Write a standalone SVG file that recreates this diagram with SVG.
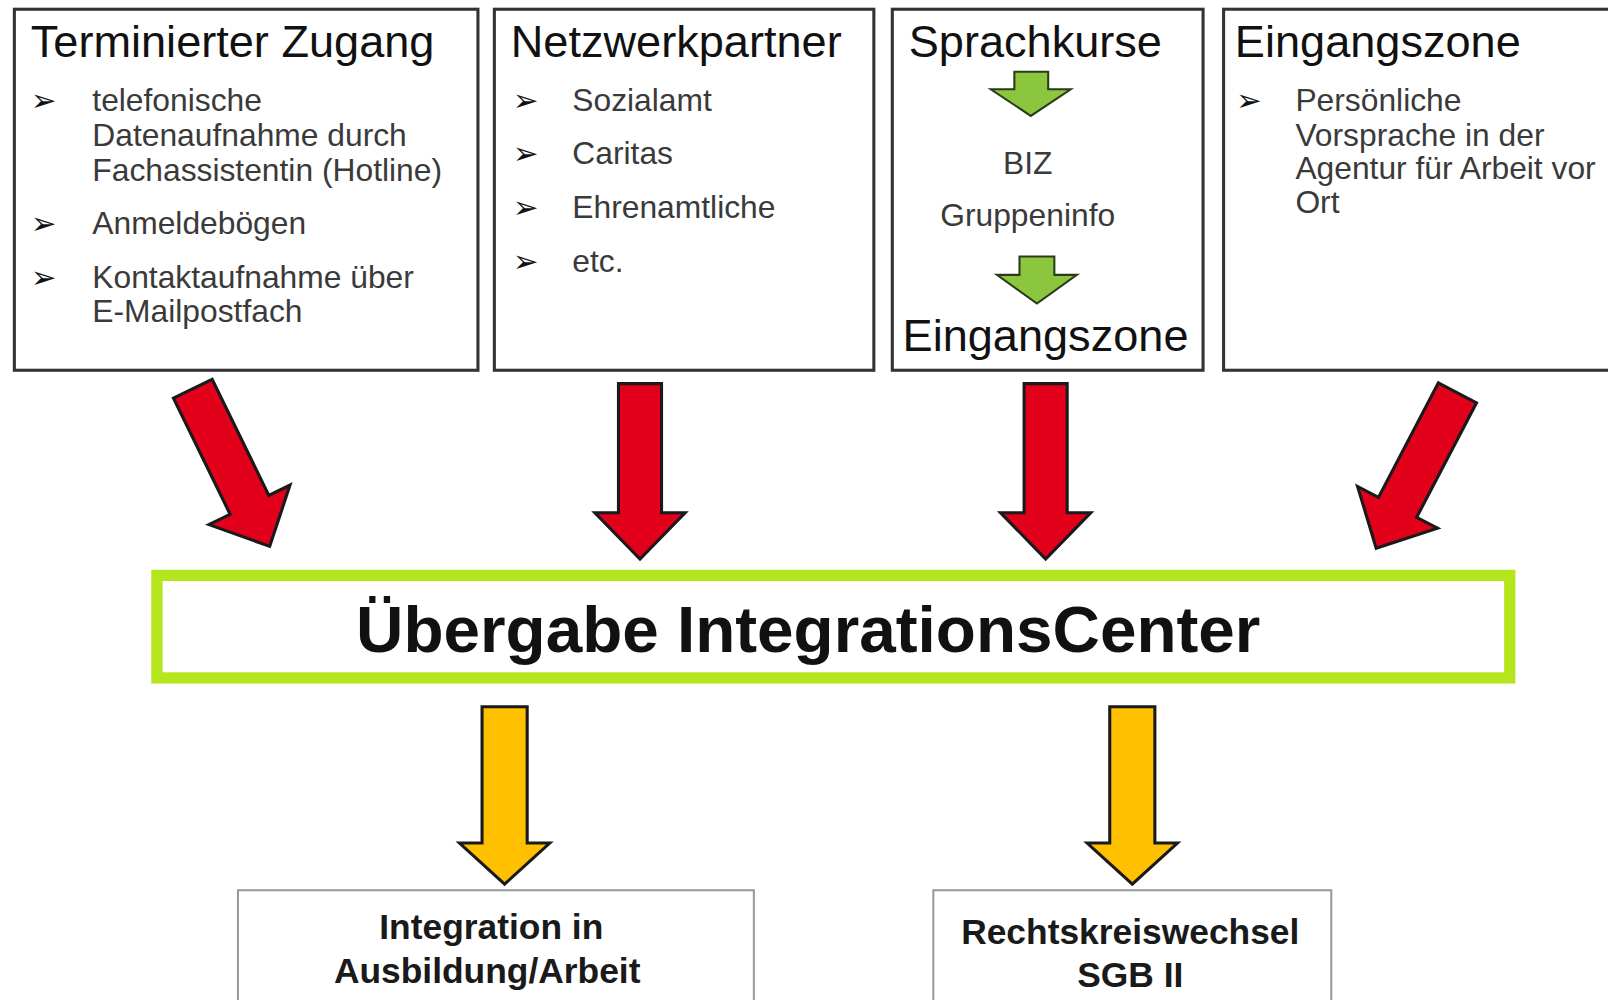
<svg xmlns="http://www.w3.org/2000/svg" width="1608" height="1000" viewBox="0 0 1608 1000">
<style>
.box{fill:#fff;stroke:#333;stroke-width:3}
.obox{fill:#fff;stroke:#999;stroke-width:2}
.title{font-family:"Liberation Sans",Arial,sans-serif;font-size:44px;fill:#111}
.item{font-family:"Liberation Sans",Arial,sans-serif;font-size:31px;fill:#3a3a3a}
.bul{font-family:"DejaVu Sans",sans-serif;font-size:30px;fill:#111}
.main{font-family:"Liberation Sans",Arial,sans-serif;font-size:64px;font-weight:bold;fill:#111}
.out{font-family:"Liberation Sans",Arial,sans-serif;font-size:34.5px;font-weight:bold;fill:#1a1a1a}
.red{fill:#e2001a;stroke:#1a1a1a;stroke-width:3;stroke-linejoin:miter}
.yel{fill:#ffc000;stroke:#1a1a1a;stroke-width:3}
.grn{fill:#8cc63f;stroke:#2a3a1a;stroke-width:2}
</style>
<defs>
<path id="redArrow" d="M-21,0 L21,0 L21,126 L44,126 L0,171 L-44,126 L-21,126 Z"/>
<path id="yelArrow" d="M-22,0 L22,0 L22,133 L44,133 L0,173 L-44,133 L-22,133 Z"/>
</defs>
<rect width="1608" height="1000" fill="#fff"/>
<g transform="scale(1.02564)">
<g id="box1">
<rect class="box" x="14" y="9" width="452" height="352"/>
<text class="title" x="30" y="56">Terminierter Zugang</text>
<text class="bul" x="30" y="108">➢</text>
<text class="item" x="90" y="108">telefonische</text>
<text class="item" x="90" y="142">Datenaufnahme durch</text>
<text class="item" x="90" y="176">Fachassistentin (Hotline)</text>
<text class="bul" x="30" y="228">➢</text>
<text class="item" x="90" y="228">Anmeldebögen</text>
<text class="bul" x="30" y="281">➢</text>
<text class="item" x="90" y="281">Kontaktaufnahme über</text>
<text class="item" x="90" y="314">E-Mailpostfach</text>
</g>

<g id="box2">
<rect class="box" x="482" y="9" width="370" height="352"/>
<text class="title" x="498" y="56">Netzwerkpartner</text>
<text class="bul" x="500" y="108">➢</text>
<text class="item" x="558" y="108">Sozialamt</text>
<text class="bul" x="500" y="160">➢</text>
<text class="item" x="558" y="160">Caritas</text>
<text class="bul" x="500" y="213">➢</text>
<text class="item" x="558" y="213">Ehrenamtliche</text>
<text class="bul" x="500" y="265">➢</text>
<text class="item" x="558" y="265">etc.</text>
</g>

<g id="box3">
<rect class="box" x="870" y="9" width="303" height="352"/>
<text class="title" x="886" y="56">Sprachkurse</text>
<path class="grn" d="M989,70 L1022,70 L1022,87 L1044,87 L1005,113 L966,87 L989,87 Z"/>
<text class="item" x="1002" y="170" text-anchor="middle">BIZ</text>
<text class="item" x="1002" y="220" text-anchor="middle">Gruppeninfo</text>
<path class="grn" d="M994,250 L1028,250 L1028,268 L1050,268 L1011,296 L972,268 L994,268 Z"/>
<text class="title" x="880" y="342">Eingangszone</text>
</g>

<g id="box4">
<rect class="box" x="1193" y="9" width="430" height="352"/>
<text class="title" x="1204" y="56">Eingangszone</text>
<text class="bul" x="1205" y="108">➢</text>
<text class="item" x="1263" y="108">Persönliche</text>
<text class="item" x="1263" y="142">Vorsprache in der</text>
<text class="item" x="1263" y="175">Agentur für Arbeit vor</text>
<text class="item" x="1263" y="208">Ort</text>
</g>

<g id="center">
<rect x="153" y="561" width="1319" height="100" fill="#fff" stroke="#b5e51d" stroke-width="11"/>
<text class="main" x="788" y="636" text-anchor="middle">Übergabe IntegrationsCenter</text>
</g>

<g id="out1">
<rect class="obox" x="232" y="868" width="503" height="150"/>
<text class="out" x="479" y="916" text-anchor="middle">Integration in</text>
<text class="out" x="475" y="958" text-anchor="middle">Ausbildung/Arbeit</text>
</g>

<g id="out2">
<rect class="obox" x="910" y="868" width="388" height="150"/>
<text class="out" x="1102" y="920" text-anchor="middle">Rechtskreiswechsel</text>
<text class="out" x="1102" y="962" text-anchor="middle">SGB II</text>
</g>

<g id="connectors">
<use href="#redArrow" class="red" transform="translate(188,379) rotate(-26)"/>
<use href="#redArrow" class="red" transform="translate(624,374)"/>
<use href="#redArrow" class="red" transform="translate(1019.5,374)"/>
<use href="#redArrow" class="red" transform="translate(1421,383) rotate(27.6)"/>
<use href="#yelArrow" class="yel" transform="translate(492,689)"/>
<use href="#yelArrow" class="yel" transform="translate(1104,689)"/>
</g>
</g>
</svg>
